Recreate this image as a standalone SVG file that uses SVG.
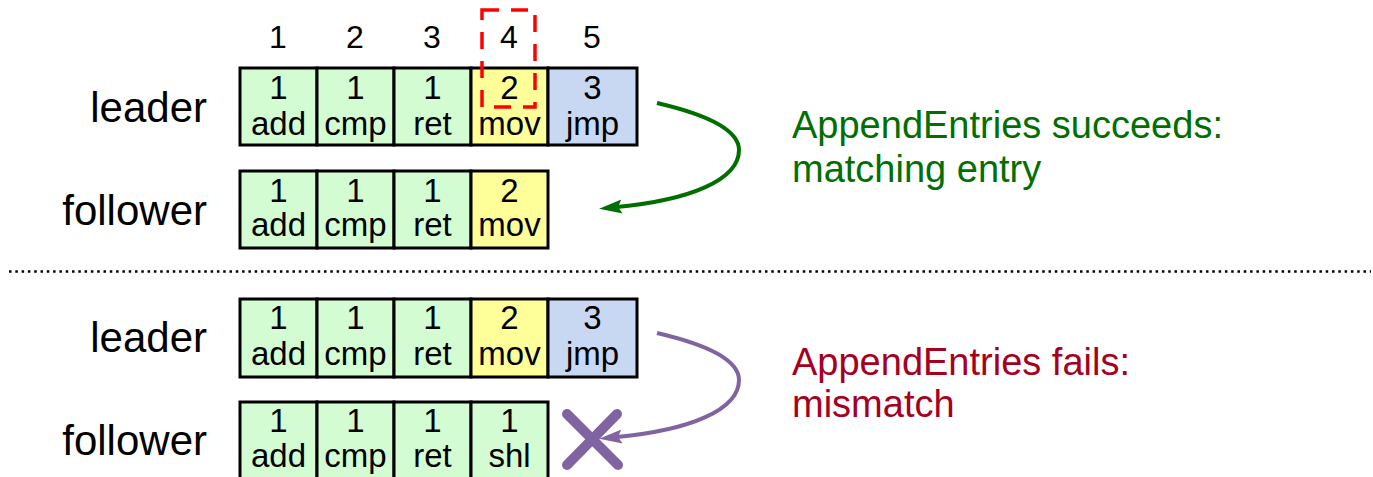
<svg xmlns="http://www.w3.org/2000/svg" width="1373" height="477" viewBox="0 0 1373 477">
<style>
text{font-family:"Liberation Sans",Arial,sans-serif;}
.lbl{font-size:42px;fill:#000;text-anchor:end;}
.hdr{font-size:32px;fill:#000;text-anchor:middle;}
.c{font-size:33px;fill:#000;text-anchor:middle;}
.g{fill:#d3fcd3;}
.y{fill:#ffff99;}
.b{fill:#c9d8f2;}
.cell{stroke:#000;stroke-width:3;}
.msgG{font-size:38px;fill:#006f00;}
.msgR{font-size:38px;fill:#a50021;}
</style>
<defs>
<marker id="ahG" markerUnits="userSpaceOnUse" markerWidth="24" markerHeight="16" viewBox="0 0 24 16" refX="5" refY="8" orient="auto">
<path d="M0,1 L23,8 L0,15 L4,8 z" fill="#006f00"/>
</marker>
<marker id="ahP" markerUnits="userSpaceOnUse" markerWidth="24" markerHeight="16" viewBox="0 0 24 16" refX="5" refY="8" orient="auto">
<path d="M0,1 L23,8 L0,15 L4,8 z" fill="#8064a2"/>
</marker>
</defs>
<rect width="1373" height="477" fill="#fff"/>

<g id="column-headers">
<text class="hdr" x="278" y="48">1</text>
<text class="hdr" x="355" y="48">2</text>
<text class="hdr" x="432" y="48">3</text>
<text class="hdr" x="509" y="48">4</text>
<text class="hdr" x="592" y="48">5</text>
</g>

<g id="leader-top">
<text class="lbl" x="207" y="122">leader</text>
<rect class="cell g" x="240" y="68" width="77" height="77"/>
<rect class="cell g" x="317" y="68" width="77" height="77"/>
<rect class="cell g" x="394" y="68" width="77" height="77"/>
<rect class="cell y" x="471" y="68" width="77" height="77"/>
<rect class="cell b" x="548" y="68" width="89" height="77"/>
<text class="c" x="278.5" y="99">1</text><text class="c" x="278.5" y="135">add</text>
<text class="c" x="355.5" y="99">1</text><text class="c" x="355.5" y="135">cmp</text>
<text class="c" x="432.5" y="99">1</text><text class="c" x="432.5" y="135">ret</text>
<text class="c" x="509.5" y="99">2</text><text class="c" x="509.5" y="135">mov</text>
<text class="c" x="592.5" y="99">3</text><text class="c" x="592.5" y="135">jmp</text>
</g>

<g id="match-highlight">
<rect x="482" y="10" width="53" height="97" fill="none" stroke="#ff0000" stroke-width="3.5" stroke-dasharray="17 12"/>
</g>

<g id="follower-top">
<text class="lbl" x="207" y="225">follower</text>
<rect class="cell g" x="240" y="171" width="77" height="77"/>
<rect class="cell g" x="317" y="171" width="77" height="77"/>
<rect class="cell g" x="394" y="171" width="77" height="77"/>
<rect class="cell y" x="471" y="171" width="77" height="77"/>
<text class="c" x="278.5" y="202">1</text><text class="c" x="278.5" y="236">add</text>
<text class="c" x="355.5" y="202">1</text><text class="c" x="355.5" y="236">cmp</text>
<text class="c" x="432.5" y="202">1</text><text class="c" x="432.5" y="236">ret</text>
<text class="c" x="509.5" y="202">2</text><text class="c" x="509.5" y="236">mov</text>
</g>

<g id="separator">
<line x1="9" y1="271.5" x2="1371" y2="271.5" stroke="#000" stroke-width="2.5" stroke-dasharray="2.5 3.8"/>
</g>

<g id="leader-bottom">
<text class="lbl" x="207" y="352">leader</text>
<rect class="cell g" x="240" y="299" width="77" height="78"/>
<rect class="cell g" x="317" y="299" width="77" height="78"/>
<rect class="cell g" x="394" y="299" width="77" height="78"/>
<rect class="cell y" x="471" y="299" width="77" height="78"/>
<rect class="cell b" x="548" y="299" width="89" height="78"/>
<text class="c" x="278.5" y="329">1</text><text class="c" x="278.5" y="365">add</text>
<text class="c" x="355.5" y="329">1</text><text class="c" x="355.5" y="365">cmp</text>
<text class="c" x="432.5" y="329">1</text><text class="c" x="432.5" y="365">ret</text>
<text class="c" x="509.5" y="329">2</text><text class="c" x="509.5" y="365">mov</text>
<text class="c" x="592.5" y="329">3</text><text class="c" x="592.5" y="365">jmp</text>
</g>

<g id="follower-bottom">
<text class="lbl" x="207" y="455">follower</text>
<rect class="cell g" x="240" y="402" width="77" height="78"/>
<rect class="cell g" x="317" y="402" width="77" height="78"/>
<rect class="cell g" x="394" y="402" width="77" height="78"/>
<rect class="cell g" x="471" y="402" width="77" height="78"/>
<text class="c" x="278.5" y="432">1</text><text class="c" x="278.5" y="467">add</text>
<text class="c" x="355.5" y="432">1</text><text class="c" x="355.5" y="467">cmp</text>
<text class="c" x="432.5" y="432">1</text><text class="c" x="432.5" y="467">ret</text>
<text class="c" x="509.5" y="432">1</text><text class="c" x="509.5" y="467">shl</text>
</g>

<g id="connectors" fill="none" stroke-width="4">
<path d="M657,103 C700,113 739,128 739,150 C739,180 690,200 617,207" stroke="#006f00" marker-end="url(#ahG)"/>
<path d="M657,333 C700,343 739,358 739,380 C739,410 690,430 617,437" stroke="#8064a2" marker-end="url(#ahP)"/>
</g>

<g id="reject-mark" stroke="#8064a2" stroke-width="10" stroke-linecap="round">
<line x1="567" y1="414" x2="618" y2="465"/>
<line x1="617" y1="414" x2="567" y2="465"/>
</g>

<g id="msg-success">
<text class="msgG" x="792" y="138">AppendEntries succeeds:</text>
<text class="msgG" x="792" y="182">matching entry</text>
</g>
<g id="msg-fail">
<text class="msgR" x="792" y="375">AppendEntries fails:</text>
<text class="msgR" x="792" y="417">mismatch</text>
</g>
</svg>
